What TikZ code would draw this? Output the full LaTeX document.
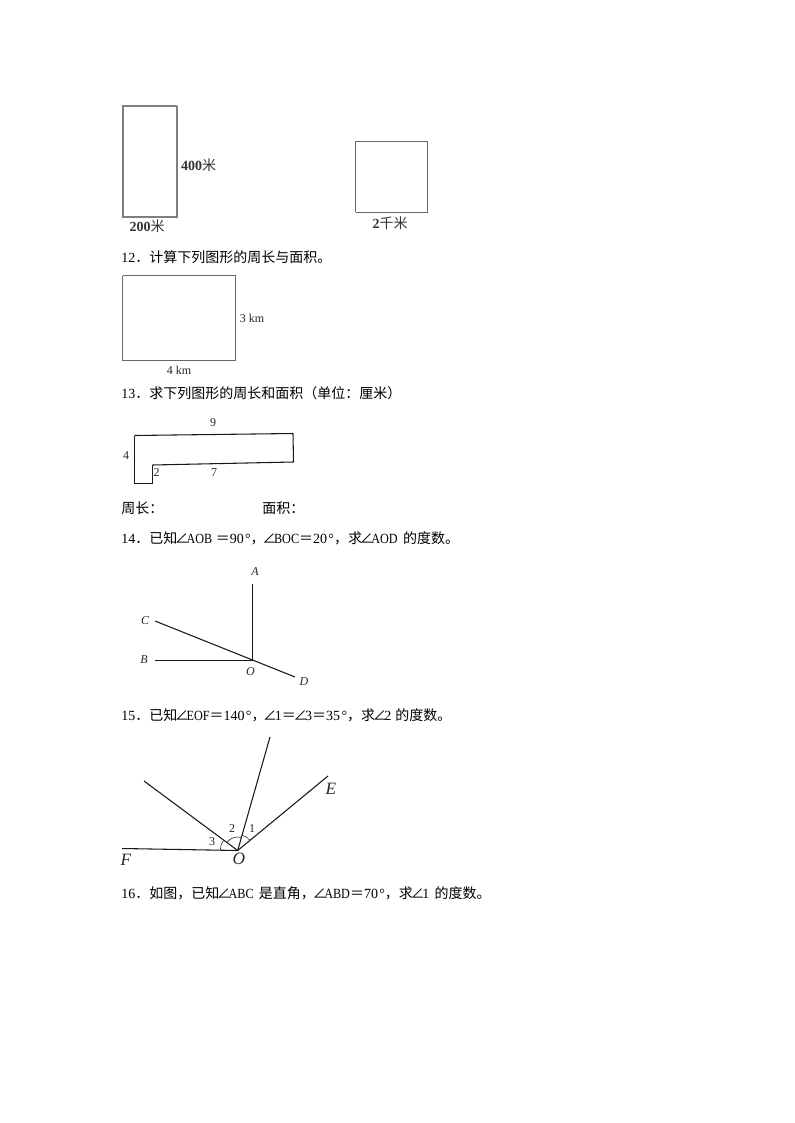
\documentclass[tikz,border=0pt]{standalone}
\usepackage{fontspec}
\setmainfont{Liberation Serif}
\newfontfamily\cjk{Noto Sans CJK SC}
\newfontfamily\latn{Liberation Serif}[FakeStretch=0.87]
\newcommand{\cn}[1]{{\cjk #1}}
\newcommand{\lt}[1]{{\latn #1}}
\newcommand{\ang}{\makebox[7pt]{\cjk ∠}}
\newcommand{\dg}{\kern1pt°}

\begin{document}
\begin{tikzpicture}
[x=0.75pt,y=-0.75pt,
  greyDecorate/.style={-,line width=1.5pt,draw=black!50},
  lineDecorate/.style={-,line width=0.8pt,draw=black!60},
  rayDecorate/.style={-,line width=0.8pt,draw=black!90},
  arcDecorate/.style={line width=0.45pt,black!80},
  textDecorate/.style={anchor=west,inner sep=0pt,font=\fontsize{10.5pt}{12pt}\selectfont},
  sizeDecorate/.style={inner sep=0pt,font=\fontsize{10.5pt}{12pt}\selectfont,black!80},
  labelDecorate/.style={inner sep=0pt,font=\fontsize{9pt}{11pt}\selectfont,black!85},
  italDecorate/.style={inner sep=0pt,font=\fontsize{9pt}{11pt}\selectfont\itshape,black!85},
  bigDecorate/.style={inner sep=0pt,font=\fontsize{13pt}{15pt}\selectfont\itshape,black!85}]
\useasboundingbox (0,0) rectangle (794,1123);
%% corners and ends of lines
\foreach \nodename/\x/\y in {
  ra/122.5/106.5, rb/176.5/106.5, rc/176.5/217.5, rd/122.5/217.5,
  sa/355.5/141.5, sb/427.5/141.5, sc/427.5/212.5, sd/355.5/212.5,
  ta/122.5/275.5, tb/235.5/275.5, tc/235.5/360.5, td/122.5/360.5,
  la/134.5/435.5, lb/293/433.5, lc/293.5/462, ld/152.5/465, le/152.5/483.5, lf/134.5/483.5,
  O/252.5/660.5, A/252.5/584, C/155/621, B/155/660.5, D/295/677,
  P/237.7/850.5, E/328/776, G/270/737, H/144/781, F/122/848.5}
{
  \coordinate (\nodename) at (\x,\y);
}
%% question lines
\foreach \nodename/\y/\body in {
  qa/257/{12\cn{．计算下列图形的周长与面积。}},
  qb/393/{13\cn{．求下列图形的周长和面积（单位：厘米）}},
  qc/538/{14\cn{．已知}\ang\lt{AOB} \cn{＝}90\dg\cn{，}\ang\lt{BOC}\cn{＝}20\dg\cn{，求}\ang\lt{AOD}\kern4pt\cn{的度数。}},
  qd/715/{15\cn{．已知}\ang\lt{EOF}\cn{＝}140\dg\cn{，}\ang 1\cn{＝}\ang 3\cn{＝}35\dg\cn{，求}\ang 2\kern3pt\cn{的度数。}},
  qe/893/{16\cn{．如图，已知}\ang\lt{ABC}\kern4pt\cn{是直角，}\ang\lt{ABD}\cn{＝}70\dg\cn{，求}\ang 1\kern4pt\cn{的度数。}}}
{
  \node (\nodename) at (121,\y) [textDecorate] {\body};
}
\node (zhou) at (121,508) [textDecorate] {\cn{周长：}};
\node (mian) at (262,508) [textDecorate] {\cn{面积：}};
%% labels
\foreach \nodename/\x/\y/\body in {
  wa/198.5/165/{\textbf{400}\cn{米}}, wb/147/226/{\textbf{200}\cn{米}}, wc/390/223/{\textbf{2}\cn{千米}}}
{
  \node (\nodename) at (\x,\y) [sizeDecorate] {\body};
}
\foreach \nodename/\x/\y/\body in {
  wd/252/318/{3 km}, we/179/370/{4 km},
  na/213/423/9, nb/126/456/4, nc/156.5/473/2, nd/214/473/7,
  pa/252/829/1, pb/232/829/2, pc/212/842/3}
{
  \node (\nodename) at (\x,\y) [labelDecorate] {\body};
}
\foreach \nodename/\x/\y/\body in {
  ma/255/572/A, mb/144/660/B, mc/145/620.5/C, md/304/682/D, mo/250.5/672/O}
{
  \node (\nodename) at (\x,\y) [italDecorate] {\body};
}
\foreach \nodename/\x/\y/\body in {
  oe/331/789/E, of/126/860/F, oo/239/859/O}
{
  \node (\nodename) at (\x,\y) [bigDecorate] {\body};
}
%% edges or lines
\path
\foreach \startnode/\endnode in {
  ra/rb, rb/rc, rc/rd, rd/ra}
{
  (\startnode) edge[greyDecorate,line cap=round] node {} (\endnode)
};
\path
\foreach \startnode/\endnode in {
  sa/sb, sb/sc, sc/sd, sd/sa, ta/tb, tb/tc, tc/td, td/ta}
{
  (\startnode) edge[lineDecorate] node {} (\endnode)
};
\path
\foreach \startnode/\endnode in {
  la/lb, lb/lc, lc/ld, ld/le, le/lf, lf/la,
  O/A, O/B, C/D, P/E, P/G, P/H, P/F}
{
  (\startnode) edge[rayDecorate] node {} (\endnode)
};
%% angle marks
\draw[arcDecorate] (P) ++(-39:16) arc (-39:-74:16);
\draw[arcDecorate] (P) ++(-74:13.5) arc (-74:-143:13.5);
\draw[arcDecorate] (P) ++(-143:17.5) arc (-143:-179:17.5);
\end{tikzpicture}
\end{document}
